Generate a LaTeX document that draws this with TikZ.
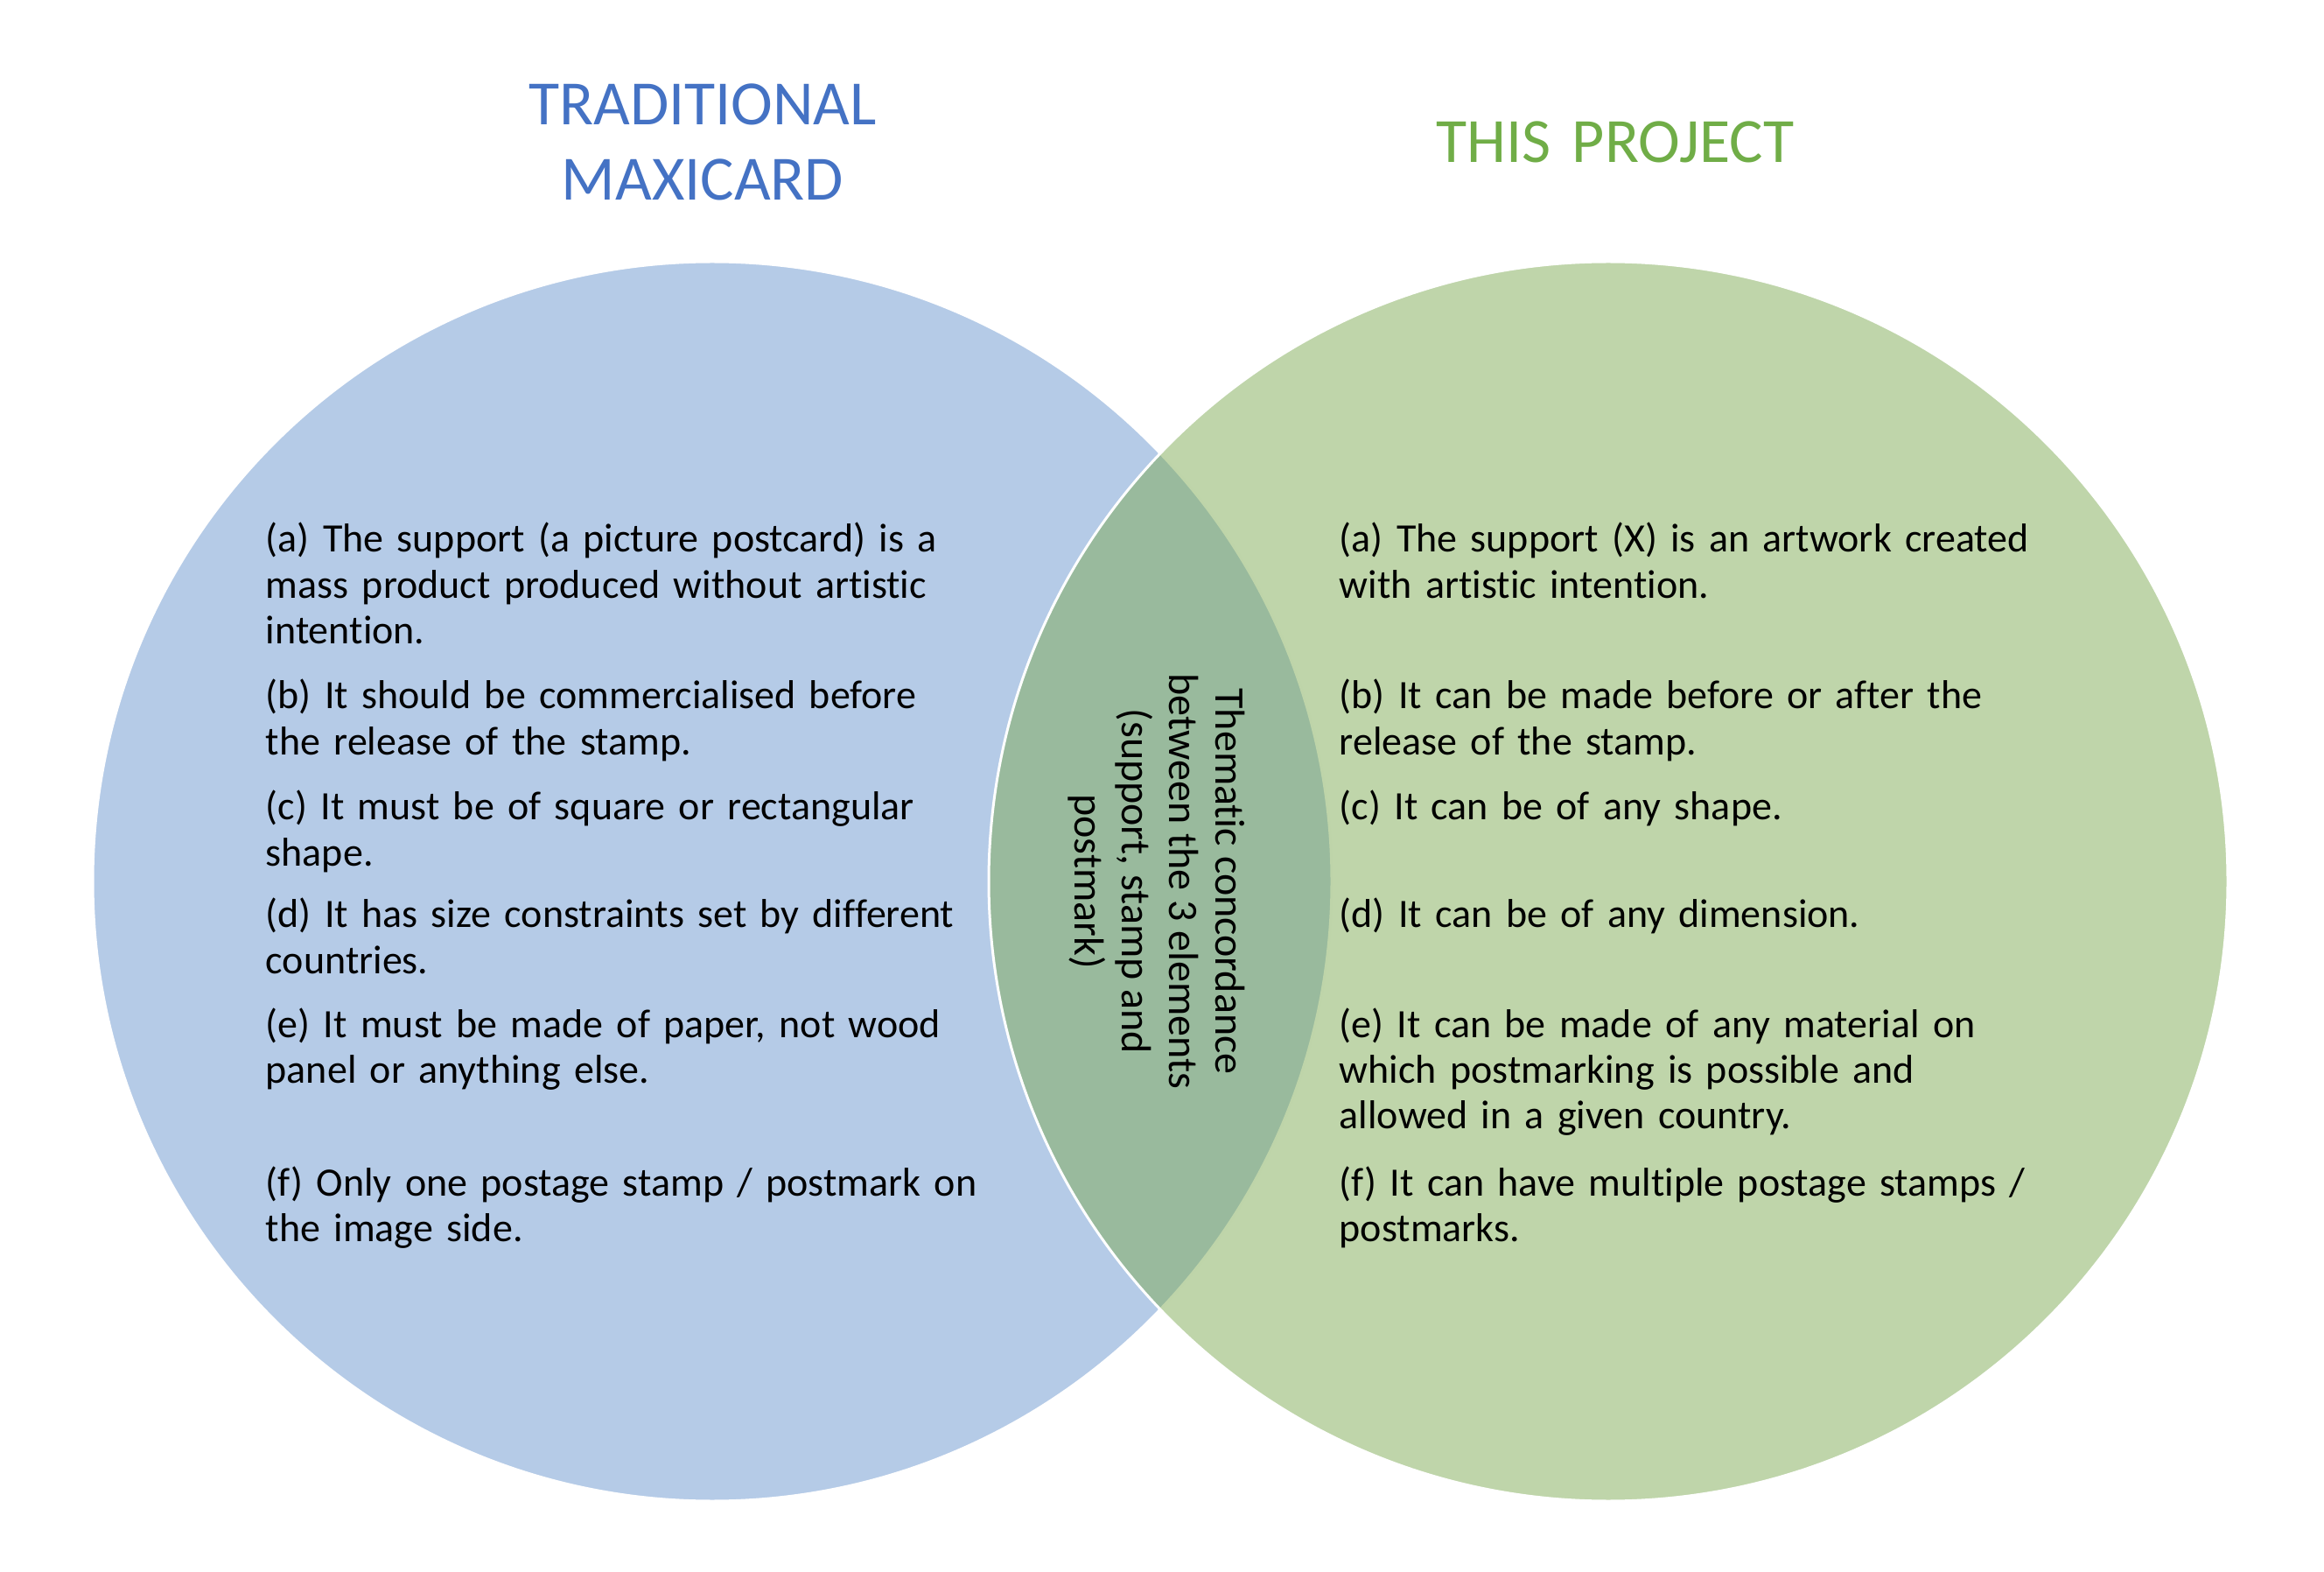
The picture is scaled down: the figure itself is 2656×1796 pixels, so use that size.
\documentclass[tikz,border=0pt]{standalone}
\usepackage{fontspec}
\setmainfont{Carlito}[Ligatures=NoCommon]
\definecolor{cblue}{RGB}{181,203,231}
\definecolor{cgreen}{RGB}{127,171,85}
\definecolor{tblue}{RGB}{68,114,196}
\definecolor{tgreen}{RGB}{112,173,71}
\tikzset{
  setleft/.style={fill=cblue, draw=white, line width=0.75pt},
  setright/.style={fill=cgreen, fill opacity=0.5, draw=white, draw opacity=1, line width=0.75pt},
  itemtext/.style={anchor=base west, inner sep=0pt, text width=250pt, align=left,
    font=\fontsize{11.5pt}{13.1pt}\selectfont},
  titletext/.style={anchor=base, inner sep=0pt, text width=200pt, align=center,
    font=\fontsize{18pt}{21.4pt}\selectfont},
  midtext/.style={rotate=-90, inner sep=0pt, align=center,
    font=\fontsize{12pt}{13.4pt}\selectfont}
}
\begin{document}
\begin{tikzpicture}[x=0.25pt,y=-0.25pt]
\useasboundingbox (0,0) rectangle (2656,1796);
\coordinate (cl) at (814,1007);
\coordinate (cr) at (1838,1007);
\path[setleft] (cl) circle[radius=708];
\path[setright] (cr) circle[radius=708];

\node[titletext, text=tblue] (tleft) at (803,143) {TRADITIONAL\\MAXICARD};
\node[titletext, text=tgreen] (tright) at (1846,186) {THIS PROJECT};

\node[itemtext] (la) at (303,631) {(a) The support (a picture postcard) is a\\mass product produced without artistic\\intention.};
\node[itemtext] (lb) at (303,810) {(b) It should be commercialised before\\the release of the stamp.};
\node[itemtext] (lc) at (303,937) {(c) It must be of square or rectangular\\shape.};
\node[itemtext] (ld) at (303,1060) {(d) It has size constraints set by different\\countries.};
\node[itemtext] (le) at (303,1185) {(e) It must be made of paper, not wood\\panel or anything else.};
\node[itemtext] (lf) at (303,1366) {(f) Only one postage stamp / postmark on\\the image side.};

\node[itemtext] (ra) at (1530,631) {(a) The support (X) is an artwork created\\with artistic intention.};
\node[itemtext] (rb) at (1530,810) {(b) It can be made before or after the\\release of the stamp.};
\node[itemtext] (rc) at (1530,937) {(c) It can be of any shape.};
\node[itemtext] (rd) at (1530,1060) {(d) It can be of any dimension.};
\node[itemtext] (re) at (1530,1185) {(e) It can be made of any material on\\which postmarking is possible and\\allowed in a given country.};
\node[itemtext] (rf) at (1530,1366) {(f) It can have multiple postage stamps /\\postmarks.};

\node[midtext] (mid) at (1322,1007) {Thematic concordance\\between the 3 elements\\(support, stamp and\\postmark)};
\end{tikzpicture}
\end{document}
